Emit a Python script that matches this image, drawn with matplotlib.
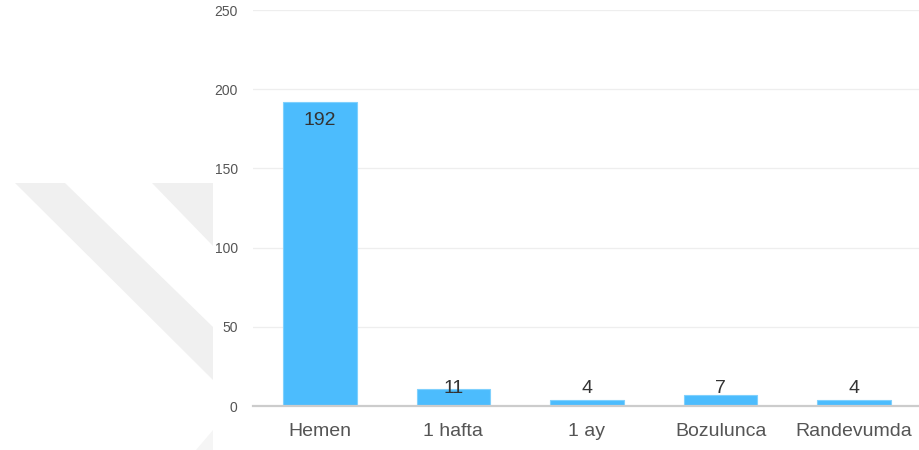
import matplotlib
matplotlib.use("Agg")
import matplotlib.pyplot as plt
from matplotlib.patches import Polygon

categories = ["Hemen", "1 hafta", "1 ay", "Bozulunca", "Randevumda"]
values = [192, 11, 4, 7, 4]
y_ticks = [0, 50, 100, 150, 200, 250]

W, H = 919, 450
fig = plt.figure(figsize=(W / 100, H / 100), dpi=100)
fig.patch.set_facecolor("white")

# faint diagonal watermark stripes on the left margin (pixel coords, y from top)
def px(points):
    return [(x / W, 1 - y / H) for x, y in points]

stripe_color = "#f0f0f0"
fig.patches.append(Polygon(px([(15, 183), (65, 183), (213, 327), (213, 380)]),
                           closed=True, transform=fig.transFigure,
                           facecolor=stripe_color, edgecolor="none", zorder=0))
fig.patches.append(Polygon(px([(152, 183), (213, 183), (213, 246)]),
                           closed=True, transform=fig.transFigure,
                           facecolor=stripe_color, edgecolor="none", zorder=0))
fig.patches.append(Polygon(px([(213, 430), (213, 450), (196, 450)]),
                           closed=True, transform=fig.transFigure,
                           facecolor="#f5f5f5", edgecolor="none", zorder=0))

ax = fig.add_axes([253 / W, 1 - 406 / H, (W - 253 + 2) / W, 396 / H])
ax.set_facecolor("none")

x = list(range(len(categories)))
ax.bar(x, values, width=0.55, color="#4cbcfd", edgecolor="#7fd0fd",
       linewidth=0.8, zorder=2)

font = "Liberation Sans"
for xi, v in zip(x, values):
    ax.text(xi, max(v - 12, 11), str(v), ha="center", va="center",
            fontsize=14, color="#333333", family=font, zorder=3)

ax.set_xlim(-0.5, len(categories) - 0.5)
ax.set_ylim(0, 250)
ax.set_yticks(y_ticks)
ax.set_yticklabels([str(t) for t in y_ticks], family=font, fontsize=10,
                   color="#555555")
ax.set_xticks(x)
ax.set_xticklabels(categories, family=font, fontsize=14, color="#555555")
ax.tick_params(axis="x", length=0, pad=12)
ax.tick_params(axis="y", length=0, pad=11)

ax.grid(axis="y", color="#eeeeee", linewidth=0.9, zorder=0)
ax.set_axisbelow(True)
for side in ["top", "right", "left"]:
    ax.spines[side].set_visible(False)
ax.spines["bottom"].set_color("#cccccc")
ax.spines["bottom"].set_linewidth(1.6)
ax.spines["bottom"].set_zorder(4)

fig.savefig("out.png", dpi=100, facecolor="white")
